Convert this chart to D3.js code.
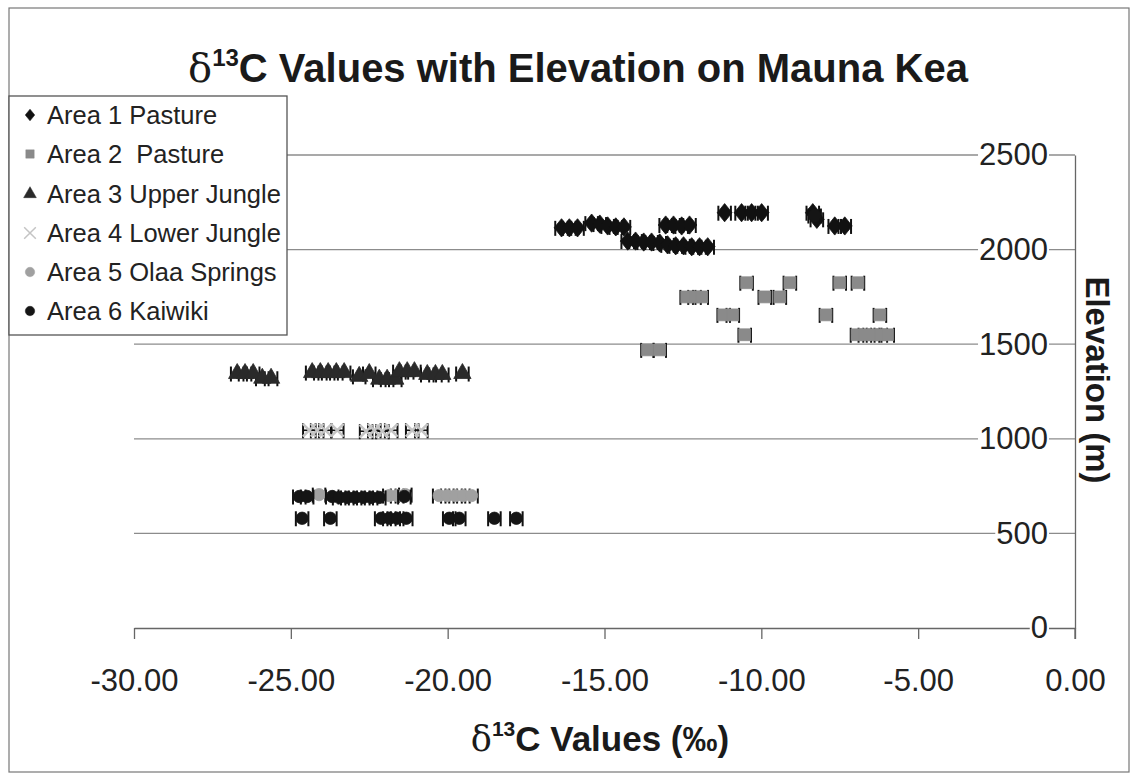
<!DOCTYPE html>
<html><head><meta charset="utf-8">
<script src="https://cdn.jsdelivr.net/npm/d3@7"></script>
<style>
body{margin:0;background:#fff;}
svg{display:block;font-family:"Liberation Sans",Arial,sans-serif;}
</style></head>
<body><svg id="c" width="1132" height="775"></svg>
<script>
// ---------- data ----------
const seriesNames = ["Area 1 Pasture","Area 2  Pasture","Area 3 Upper Jungle","Area 4 Lower Jungle","Area 5 Olaa Springs","Area 6 Kaiwiki"];
const area1X = [-16.37,-16.12,-15.86,-15.41,-15.15,-14.90,-14.64,-14.38,-13.05,-12.80,-12.54,-12.29,-14.26,-14.01,-13.75,-13.50,-13.24,-12.99,-12.73,-12.48,-12.22,-11.97,-11.71,-11.17,-10.63,-10.31,-9.99,-8.36,-8.23,-7.66,-7.34];
const area1Y = [2115,2115,2115,2140,2135,2125,2120,2120,2130,2130,2125,2130,2045,2045,2040,2040,2035,2025,2020,2020,2015,2015,2015,2195,2195,2195,2195,2195,2160,2125,2125];
const area2X = [-12.38,-12.13,-11.90,-10.47,-9.09,-9.89,-9.41,-7.50,-6.92,-11.20,-10.91,-7.94,-6.22,-10.53,-6.95,-6.70,-6.44,-6.19,-5.97,-13.63,-13.24];
const area2Y = [1750,1750,1750,1825,1825,1750,1750,1825,1825,1655,1655,1655,1655,1550,1550,1550,1550,1550,1550,1470,1470];
const area3X = [-26.71,-26.46,-26.20,-25.91,-25.63,-24.32,-24.06,-23.81,-23.55,-23.30,-22.82,-22.50,-22.18,-21.93,-21.67,-21.54,-21.29,-21.06,-20.65,-20.39,-20.17,-19.53];
const area3Y = [1345,1345,1345,1320,1320,1350,1350,1350,1350,1350,1330,1345,1315,1315,1315,1355,1355,1355,1340,1340,1340,1345];
const area4X = [-24.41,-24.16,-23.90,-23.52,-22.60,-22.34,-22.08,-21.80,-21.13,-20.84];
const area4Y = [1045,1045,1045,1045,1040,1045,1040,1045,1045,1045];
const area5X = [-24.10,-21.86,-21.61,-21.35,-20.27,-20.01,-19.75,-19.50,-19.24];
const area5Y = [705,700,700,705,700,700,700,700,700];
const area6X = [-24.73,-24.48,-23.68,-23.46,-23.20,-22.95,-22.69,-22.44,-22.18,-21.38,-24.64,-23.74,-22.12,-21.86,-21.61,-21.32,-19.95,-19.63,-18.51,-17.81,-8.30];
const area6Y = [695,695,695,690,690,690,690,690,690,695,580,580,580,580,580,580,580,580,580,580,2180];
const xError = 0.2;
const xTicks = [-30,-25,-20,-15,-10,-5,0];
const yTicks = [0,500,1000,1500,2000,2500];

// ---------- styles ----------
const wideDiamond = {draw(ctx,size){const r=Math.sqrt(size)/1.5; const w=r*0.85, h=r*1.05;
  ctx.moveTo(0,-h); ctx.lineTo(w,0); ctx.lineTo(0,h); ctx.lineTo(-w,0); ctx.closePath();}};
const shapes = [wideDiamond, d3.symbolSquare, d3.symbolTriangle, d3.symbolX, d3.symbolCircle, d3.symbolCircle];
const fills  = ["#111","#8a8a8a","#2a2a2a","#c4c4c4","#a0a0a0","#151515"];
const sizes  = [170,140,130,110,120,120];

const svg = d3.select("#c");
const x = d3.scaleLinear().domain([-30,0]).range([134,1075]);
const y = d3.scaleLinear().domain([0,2500]).range([628,155]);
const hy = s => s.replace("\u2212","-");

// outer border
svg.append("rect").attr("x",9).attr("y",8).attr("width",1120).attr("height",764)
  .attr("fill","none").attr("stroke","#777").attr("stroke-width",1.2);

// gridlines
svg.append("g").selectAll("line").data(yTicks.filter(d=>d>0)).join("line")
  .attr("x1",x(-30)).attr("x2",x(0)).attr("y1",d=>y(d)).attr("y2",d=>y(d))
  .attr("stroke","#8c8c8c").attr("stroke-width",1.3);

// x axis
const xa = svg.append("g").attr("transform",`translate(0,${y(0)})`)
  .call(d3.axisBottom(x).tickValues(xTicks).tickFormat(d=>hy(d3.format(".2f")(d))).tickSize(11).tickPadding(30).tickSizeOuter(0));
xa.select(".domain").attr("stroke","#666").attr("stroke-width",1.3);
xa.selectAll(".tick line").attr("stroke","#666").attr("stroke-width",1.3);
xa.selectAll("text").attr("font-size",31).attr("fill","#222").attr("font-family","'Liberation Sans',Arial,sans-serif");

// y axis (right, labels inside)
const ya = svg.append("g").attr("transform",`translate(${x(0)},0)`)
  .call(d3.axisLeft(y).tickValues(yTicks).tickFormat(d3.format("d")).tickSize(0).tickPadding(27).tickSizeOuter(0));
ya.select(".domain").attr("stroke","#666").attr("stroke-width",1.3);
ya.selectAll("text").attr("font-size",31).attr("fill","#222").attr("font-family","'Liberation Sans',Arial,sans-serif");
ya.selectAll(".tick").each(function(){
  const t = d3.select(this).select("text");
  const b = t.node().getBBox();
  d3.select(this).insert("rect","text").attr("x",b.x-1).attr("y",b.y+6).attr("width",b.width+2).attr("height",b.height-12).attr("fill","#fff");
});
svg.append("line").attr("x1",x(0)).attr("x2",x(0)).attr("y1",y(0)).attr("y2",y(0)+11).attr("stroke","#666").attr("stroke-width",1.3);

// data points
const series = [[area1X,area1Y],[area2X,area2Y],[area3X,area3Y],[area4X,area4Y],[area5X,area5Y],[area6X,area6Y]];
const plot = svg.append("g");
series.forEach(([xs,ys],i)=>{
  const pts = xs.map((v,k)=>({x:v,y:ys[k]}));
  const g = plot.append("g");
  const eb = g.selectAll("g.eb").data(pts).join("g").attr("class","eb");
  eb.append("line").attr("x1",d=>x(d.x-xError)).attr("x2",d=>x(d.x+xError)).attr("y1",d=>y(d.y)).attr("y2",d=>y(d.y)).attr("stroke","#111").attr("stroke-width",1.6);
  eb.append("line").attr("x1",d=>x(d.x-xError)).attr("x2",d=>x(d.x-xError)).attr("y1",d=>y(d.y)-7).attr("y2",d=>y(d.y)+8).attr("stroke","#111").attr("stroke-width",2);
  eb.append("line").attr("x1",d=>x(d.x+xError)).attr("x2",d=>x(d.x+xError)).attr("y1",d=>y(d.y)-7).attr("y2",d=>y(d.y)+8).attr("stroke","#111").attr("stroke-width",2);
  g.selectAll("path").data(pts).join("path")
    .attr("transform",d=>`translate(${x(d.x)},${y(d.y)})`)
    .attr("d",d3.symbol(shapes[i],sizes[i]))
    .attr("fill",i===3?"none":fills[i])
    .attr("stroke",fills[i]).attr("stroke-width",i===3?2.5:0.8);
});

// title
const title = svg.append("text").attr("x",578).attr("y",82).attr("text-anchor","middle")
  .attr("font-size",40).attr("font-weight","bold").attr("fill","#1a1a1a");
title.append("tspan").attr("font-weight","normal").attr("font-family","'DejaVu Serif',serif").text("δ");
title.append("tspan").attr("font-size",24).attr("dy",-16).text("13");
title.append("tspan").attr("dy",16).text("C Values with Elevation on Mauna Kea");

// x axis title
const xt = svg.append("text").attr("x",600).attr("y",751).attr("text-anchor","middle")
  .attr("font-size",35).attr("font-weight","bold").attr("fill","#1a1a1a");
xt.append("tspan").attr("font-weight","normal").attr("font-family","'DejaVu Serif',serif").text("δ");
xt.append("tspan").attr("font-size",21).attr("dy",-15).text("13");
xt.append("tspan").attr("dy",15).text("C Values (‰)");

// y axis title
svg.append("text").attr("transform","translate(1086,380) rotate(90)").attr("text-anchor","middle")
  .attr("font-size",33).attr("font-weight","bold").attr("fill","#1a1a1a").text("Elevation (m)");

// legend
const lg = svg.append("g");
lg.append("rect").attr("x",9).attr("y",96).attr("width",278).attr("height",239)
  .attr("fill","#fff").attr("stroke","#555").attr("stroke-width",1.3);
const legY = [115,154,194,233,272,311];
seriesNames.forEach((n,i)=>{
  lg.append("path").attr("transform",`translate(30,${legY[i]})`).attr("d",d3.symbol(shapes[i],i===3?90:70))
    .attr("fill",i===3?"none":fills[i]).attr("stroke",fills[i]).attr("stroke-width",i===3?1.5:0.5);
  lg.append("text").attr("x",47).attr("y",legY[i]).attr("dy","0.35em").attr("font-size",25.5)
    .style("white-space","pre").attr("fill","#222").text(n);
});
</script></body></html>
